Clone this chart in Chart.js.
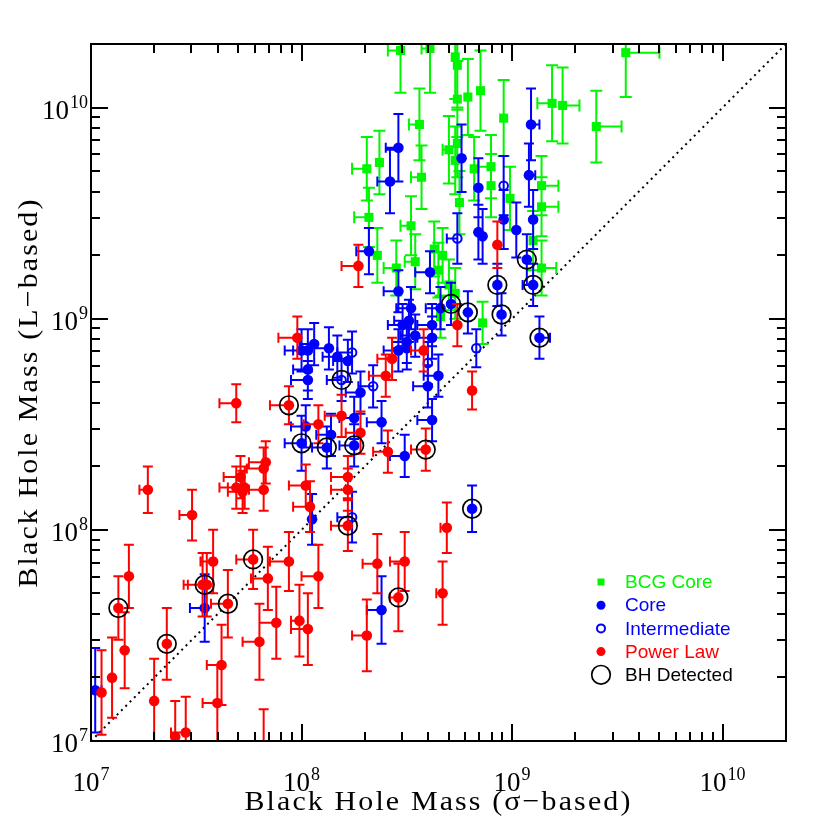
<!DOCTYPE html>
<html>
<head>
<meta charset="utf-8">
<script src="https://cdn.jsdelivr.net/npm/chart.js@4.4.0/dist/chart.umd.min.js"></script>
<style>
  html, body { margin: 0; padding: 0; background: #fff; }
  canvas { display: block; }
</style>
</head>
<body>
<canvas id="bhChart" width="830" height="830"></canvas>
<script>
// all masses are log10(M / Msun)
const axisMin = 1e7;
const axisMax = 2e10;
const decades = [7, 8, 9, 10];
const xTitle = "Black Hole Mass (σ−based)";
const yTitle = "Black Hole Mass (L−based)";
const seriesNames = ["BCG Core", "Core", "Intermediate", "Power Law", "BH Detected"];

// BCG core
const bcgSigma = [8.47, 8.61, 8.73, 8.74, 8.74, 8.79, 8.85, 9.19, 9.24, 9.40, 9.54, 8.56, 8.96, 8.31, 8.37, 8.57, 8.70, 8.74, 8.73, 8.82,
  8.90, 8.90, 8.99, 8.75, 9.14, 9.14, 8.32, 8.52, 9.10, 8.36, 8.45, 8.54, 8.63, 8.65, 8.67, 9.14, 8.70, 8.73, 8.66, 8.86];
const bcgL = [10.27, 10.28, 10.24, 10.20, 10.04, 10.05, 10.08, 10.02, 10.01, 9.91, 10.26, 9.92, 9.95, 9.71, 9.74, 9.67, 9.80, 9.83, 9.75, 9.71,
  9.72, 9.63, 9.57, 9.55, 9.63, 9.53, 9.48, 9.44, 9.37, 9.30, 9.24, 9.27, 9.33, 9.23, 9.30, 9.24, 9.16, 9.12, 9.01, 8.98];
const bcgSigmaErr = [-0.06, -0.04, 0, 0, 0, 0, 0, -0.07, 0.08, 0.12, 0.16, -0.05, 0, -0.07, 0, -0.05, -0.03, 0, 0, 0,
  -0.06, 0, 0, 0, 0.08, 0.08, -0.07, -0.05, 0, -0.04, -0.06, -0.05, 0, 0, 0, 0.07, 0, 0, 0, 0];
const bcgLErr = [0.2, 0.21, 0.2, 0.2, 0.18, 0.18, 0.19, 0.18, 0.18, 0.17, 0.21, 0.17, 0.18, 0.15, 0.15, 0.15, 0.16, 0.16, 0.16, 0.15,
  0.15, 0.15, 0.15, 0.15, 0.14, 0.14, 0.14, 0.14, 0.14, 0.13, 0.13, 0.13, 0.13, 0.13, 0.13, 0.13, 0.12, 0.12, 0.1, 0.1];

// core
const coreSigma = [8.46, 8.42, 9.09, 8.76, 8.84, 9.08, 8.96, 9.02, 9.10, 8.84, 8.86, 8.32, 9.07, 8.61, 8.93, 9.10, 8.46, 8.71, 8.79, 8.95,
  8.52, 8.66, 8.51, 8.48, 8.62, 8.54, 8.62, 8.50, 8.46, 8.50, 9.13, 8.65, 8.60, 8.28, 8.38, 8.25, 8.62, 8.14, 8.12, 8.25,
  8.49, 8.81, 8.06, 8.00, 8.03, 8.13, 8.17, 8.22, 8.03, 8.03, 8.00, 8.02, 8.05, 8.38, 7.54, 7.02];
const coreL = [9.81, 9.65, 9.92, 9.76, 9.62, 9.68, 9.47, 9.42, 9.47, 9.41, 9.39, 9.32, 9.28, 9.22, 9.16, 9.16, 9.13, 9.07, 9.03, 9.02,
  9.05, 9.05, 8.99, 8.97, 8.97, 8.92, 8.91, 8.89, 8.85, 8.86, 8.91, 8.73, 8.68, 8.65, 8.51, 8.53, 8.52, 8.45, 8.39, 8.40,
  8.35, 8.10, 8.88, 8.85, 8.85, 8.86, 8.82, 8.80, 8.76, 8.71, 8.41, 8.49, 8.05, 7.62, 7.63, 7.24];
const coreSigmaErr = [-0.06, -0.06, 0.04, 0, 0, 0.03, 0, 0, 0, 0, 0, -0.06, 0, -0.07, 0, -0.05, -0.07, 0, 0, 0,
  -0.07, -0.07, -0.07, -0.07, -0.07, -0.07, -0.07, -0.07, -0.07, -0.07, 0.05, -0.07, -0.07, -0.07, -0.07, -0.07, -0.07, -0.07, -0.07, -0.07,
  -0.07, 0, -0.07, -0.08, -0.07, -0.07, -0.07, -0.07, -0.07, -0.08, -0.08, -0.07, 0, -0.07, -0.07, 0.03];
const coreLErr = [0.16, 0.15, 0.17, 0.16, 0.14, 0.15, 0.14, 0.13, 0.14, 0.13, 0.13, 0.11, 0.12, 0.1, 0.1, 0.1, 0.1, 0.1, 0.1, 0.1,
  0.1, 0.1, 0.1, 0.1, 0.1, 0.1, 0.1, 0.1, 0.1, 0.1, 0.1, 0.1, 0.1, 0.1, 0.1, 0.1, 0.1, 0.1, 0.1, 0.1,
  0.1, 0.11, 0.1, 0.1, 0.1, 0.1, 0.1, 0.1, 0.1, 0.09, 0.13, 0.1, 0.12, 0.16, 0.16, 0.2];

// intermediate
const midSigma = [8.96, 8.74, 8.24, 8.60, 8.19, 8.34, 8.83, 8.24];
const midL = [9.63, 9.38, 8.84, 8.79, 8.71, 8.68, 8.86, 8.06];
const midSigmaErr = [0, -0.05, -0.07, 0, -0.07, -0.07, 0, -0.07];
const midLErr = [0.14, 0.12, 0.1, 0.1, 0.1, 0.1, 0.09, 0.12];

// power law
const plSigma = [8.93, 8.27, 8.74, 8.58, 8.43, 8.40, 8.81, 8.19, 8.28, 8.41, 8.59, 8.22, 8.22, 8.08, 7.98, 7.94, 7.69, 7.83, 7.82, 7.71,
  7.69, 7.73, 7.72, 7.82, 8.02, 8.04, 7.27, 7.48, 8.22, 8.69, 8.36, 8.49, 8.46, 8.31, 8.67, 7.18, 7.13, 7.16, 7.10, 7.05,
  7.36, 7.30, 7.45, 7.58, 7.53, 7.55, 7.65, 7.77, 7.84, 7.94, 8.08, 7.80, 7.88, 7.99, 8.03, 7.62, 7.60, 7.40, 7.82];
const plL = [9.35, 9.25, 8.97, 8.85, 8.81, 8.73, 8.66, 8.54, 8.46, 8.37, 8.38, 8.25, 8.19, 8.50, 8.91, 8.59, 8.60, 8.32, 8.29, 8.25,
  8.20, 8.20, 8.18, 8.19, 8.21, 8.11, 8.19, 8.07, 8.02, 8.01, 7.84, 7.85, 7.68, 7.50, 7.70, 7.78, 7.63, 7.43, 7.30, 7.23,
  7.46, 7.19, 7.04, 7.85, 7.74, 7.74, 7.65, 7.86, 7.77, 7.85, 7.78, 7.47, 7.56, 7.57, 7.53, 7.36, 7.18, 7.02, 6.98];
const plSigmaErr = [0, -0.08, 0, -0.06, -0.07, -0.08, 0, -0.08, -0.07, -0.07, -0.07, -0.08, -0.08, -0.07, -0.09, -0.09, -0.08, -0.08, -0.08, -0.08,
  -0.08, -0.08, -0.07, -0.07, -0.08, -0.08, -0.04, -0.06, -0.08, -0.03, -0.07, -0.07, -0.04, -0.07, -0.03, 0, 0, 0, 0, 0,
  0, 0, -0.07, -0.06, -0.09, -0.09, -0.08, -0.08, -0.08, -0.09, -0.08, -0.08, -0.08, -0.04, -0.08, -0.07, -0.07, 0, 0];
const plLErr = [0.11, 0.1, 0.1, 0.1, 0.1, 0.1, 0.09, 0.1, 0.1, 0.1, 0.1, 0.1, 0.1, 0.09, 0.1, 0.09, 0.09, 0.1, 0.1, 0.1,
  0.1, 0.1, 0.1, 0.1, 0.1, 0.12, 0.11, 0.12, 0.12, 0.12, 0.14, 0.14, 0.16, 0.17, 0.15, 0.15, 0.15, 0.18, 0.19, 0.2,
  0.17, 0.2, 0.17, 0.15, 0.15, 0.15, 0.16, 0.14, 0.15, 0.14, 0.15, 0.18, 0.17, 0.17, 0.17, 0.19, 0.18, 0.17, 0.17];

// galaxies with a direct BH detection (circled)
const detSigma = [7.13, 7.36, 7.54, 7.65, 7.77, 7.94, 8.00, 8.12, 8.25, 8.19, 8.22, 8.46, 8.59, 8.71, 8.79, 8.93, 8.95, 9.10, 9.07, 9.13, 8.81];
const detL = [7.63, 7.46, 7.74, 7.65, 7.86, 8.59, 8.41, 8.39, 8.40, 8.71, 8.02, 7.68, 8.38, 9.07, 9.03, 9.16, 9.02, 9.16, 9.28, 8.91, 8.10];

const oneToOne = [1e7, 2e10];

const GREEN = "rgb(0,245,0)";
const BLUE = "#0000ff";
const RED = "#ff0000";

const toPoints = (xs, ys) => xs.map((v, i) => ({ x: 10 ** v, y: 10 ** ys[i] }));

// error bars drawn just under each dataset's markers
const errorBars = {
  id: "errorBars",
  beforeDatasetDraw(chart, args) {
    const ds = chart.data.datasets[args.index];
    if (!ds.errX) return;
    const { ctx, chartArea: a } = chart;
    const xs = chart.scales.x, ys = chart.scales.y;
    const cap = ds.capSize;
    ctx.save();
    ctx.beginPath();
    ctx.rect(a.left, a.top, a.right - a.left, a.bottom - a.top);
    ctx.clip();
    ctx.strokeStyle = ds.borderColor;
    ctx.lineWidth = 2;
    ctx.beginPath();
    ds.data.forEach((p, i) => {
      const lx = Math.log10(p.x), ly = Math.log10(p.y);
      const px = xs.getPixelForValue(p.x), py = ys.getPixelForValue(p.y);
      const ey = ds.errY[i], ex = ds.errX[i];
      if (ey) {
        const y1 = ys.getPixelForValue(10 ** (ly + ey));
        const y2 = ys.getPixelForValue(10 ** (ly - ey));
        ctx.moveTo(px, y1); ctx.lineTo(px, y2);
        ctx.moveTo(px - cap, y1); ctx.lineTo(px + cap, y1);
        ctx.moveTo(px - cap, y2); ctx.lineTo(px + cap, y2);
      }
      if (ex) {
        const x2 = xs.getPixelForValue(10 ** (lx + ex));
        ctx.moveTo(px, py); ctx.lineTo(x2, py);
        ctx.moveTo(x2, py - cap); ctx.lineTo(x2, py + cap);
      }
    });
    ctx.stroke();
    ctx.restore();
  }
};

function powLabel(ctx, e, x, baseY, align) {
  ctx.font = "27px 'Liberation Serif'";
  const w1 = ctx.measureText("10").width;
  ctx.font = "18px 'Liberation Serif'";
  const w2 = ctx.measureText(String(e)).width;
  const total = w1 + w2 + 1;
  const left = align === "center" ? x - total / 2 : x - total;
  ctx.font = "27px 'Liberation Serif'";
  ctx.fillText("10", left, baseY);
  ctx.font = "18px 'Liberation Serif'";
  ctx.fillText(String(e), left + w1 + 1, baseY - 11);
}

function wideText(ctx, text, cx, cy, width, rot) {
  ctx.save();
  ctx.translate(cx, cy);
  ctx.rotate(rot);
  ctx.font = "28px 'Liberation Serif'";
  ctx.letterSpacing = "2px";
  ctx.scale(width / ctx.measureText(text).width, 1);
  ctx.textAlign = "center";
  ctx.textBaseline = "middle";
  ctx.fillText(text, 0, 0);
  ctx.restore();
}

// frame, inward ticks on all four sides, tick labels and titles
const frame = {
  id: "frame",
  afterDraw(chart) {
    const { ctx, chartArea: a } = chart;
    const xs = chart.scales.x, ys = chart.scales.y;
    ctx.save();
    ctx.strokeStyle = "#000";
    ctx.lineWidth = 2;
    ctx.strokeRect(a.left, a.top, a.right - a.left, a.bottom - a.top);
    ctx.beginPath();
    decades.forEach((e) => {
      for (let m = 1; m <= 9; m++) {
        const v = m * 10 ** e;
        if (v >= axisMax) break;
        const len = m === 1 ? 17 : 9;
        const px = Math.round(xs.getPixelForValue(v));
        const py = Math.round(ys.getPixelForValue(v));
        ctx.moveTo(px, a.bottom); ctx.lineTo(px, a.bottom - len);
        ctx.moveTo(px, a.top); ctx.lineTo(px, a.top + len);
        ctx.moveTo(a.left, py); ctx.lineTo(a.left + len, py);
        ctx.moveTo(a.right, py); ctx.lineTo(a.right - len, py);
      }
    });
    ctx.stroke();

    ctx.fillStyle = "#000";
    ctx.textAlign = "left";
    ctx.textBaseline = "alphabetic";
    decades.forEach((e) => {
      powLabel(ctx, e, xs.getPixelForValue(10 ** e), a.bottom + 50, "center");
      powLabel(ctx, e, a.left - 3, ys.getPixelForValue(10 ** e) + 11, "right");
    });
    wideText(ctx, xTitle, (a.left + a.right) / 2, a.bottom + 62, 388, 0);
    wideText(ctx, yTitle, 30, (a.top + a.bottom) / 2, 390, -Math.PI / 2);
    ctx.restore();
  }
};

// legend in the lower right of the plot
const legendBox = {
  id: "legendBox",
  afterDraw(chart) {
    const ctx = chart.ctx;
    const items = chart.data.datasets.filter((d) => d.legendRadius);
    ctx.save();
    ctx.font = "19px 'Liberation Sans'";
    ctx.textAlign = "left";
    ctx.textBaseline = "middle";
    items.forEach((ds, i) => {
      const cy = 582 + i * 23.2;
      const mx = 601;
      const r = ds.legendRadius;
      ctx.beginPath();
      if (ds.pointStyle === "rect") {
        ctx.fillStyle = ds.backgroundColor;
        ctx.fillRect(mx - r, cy - r, 2 * r, 2 * r);
      } else {
        ctx.arc(mx, cy, r, 0, Math.PI * 2);
        if (ds.backgroundColor !== "rgba(0,0,0,0)") {
          ctx.fillStyle = ds.backgroundColor;
          ctx.fill();
        } else {
          ctx.strokeStyle = ds.borderColor;
          ctx.lineWidth = ds.borderWidth;
          ctx.stroke();
        }
      }
      ctx.fillStyle = ds.textColor;
      ctx.fillText(ds.label, 625, cy + 1);
    });
    ctx.restore();
  }
};

new Chart(document.getElementById("bhChart"), {
  type: "scatter",
  data: {
    datasets: [
      {
        type: "line",
        label: "1:1",
        data: oneToOne.map((v) => ({ x: v, y: v })),
        borderColor: "#000",
        borderWidth: 2,
        borderDash: [2, 4.1],
        pointRadius: 0,
        fill: false,
        order: 6,
      },
      {
        label: seriesNames[0],
        data: toPoints(bcgSigma, bcgL),
        errX: bcgSigmaErr, errY: bcgLErr, capSize: 6,
        pointStyle: "rect", pointRadius: 6.4, borderWidth: 0,
        backgroundColor: GREEN, borderColor: GREEN, textColor: GREEN,
        legendRadius: 3.5, order: 5,
      },
      {
        label: seriesNames[1],
        data: toPoints(coreSigma, coreL),
        errX: coreSigmaErr, errY: coreLErr, capSize: 5,
        pointStyle: "circle", pointRadius: 5.3, borderWidth: 0,
        backgroundColor: BLUE, borderColor: BLUE, textColor: BLUE,
        legendRadius: 4.5, order: 4,
      },
      {
        label: seriesNames[2],
        data: toPoints(midSigma, midL),
        errX: midSigmaErr, errY: midLErr, capSize: 5,
        pointStyle: "circle", pointRadius: 4.3, borderWidth: 2,
        backgroundColor: "rgba(0,0,0,0)", borderColor: BLUE, textColor: BLUE,
        legendRadius: 4, order: 3,
      },
      {
        label: seriesNames[3],
        data: toPoints(plSigma, plL),
        errX: plSigmaErr, errY: plLErr, capSize: 5,
        pointStyle: "circle", pointRadius: 5.3, borderWidth: 0,
        backgroundColor: RED, borderColor: RED, textColor: RED,
        legendRadius: 4.5, order: 2,
      },
      {
        label: seriesNames[4],
        data: toPoints(detSigma, detL),
        pointStyle: "circle", pointRadius: 9.3, borderWidth: 1.7,
        backgroundColor: "rgba(0,0,0,0)", borderColor: "#000", textColor: "#000",
        legendRadius: 9.3, order: 1,
      },
    ],
  },
  options: {
    responsive: false,
    animation: false,
    layout: { padding: { left: 91, right: 44, top: 44, bottom: 89 } },
    scales: {
      x: { type: "logarithmic", min: axisMin, max: axisMax, display: false },
      y: { type: "logarithmic", min: axisMin, max: axisMax, display: false },
    },
    plugins: {
      legend: { display: false },
      tooltip: { enabled: false },
    },
  },
  plugins: [errorBars, frame, legendBox],
});
</script>
</body>
</html>
